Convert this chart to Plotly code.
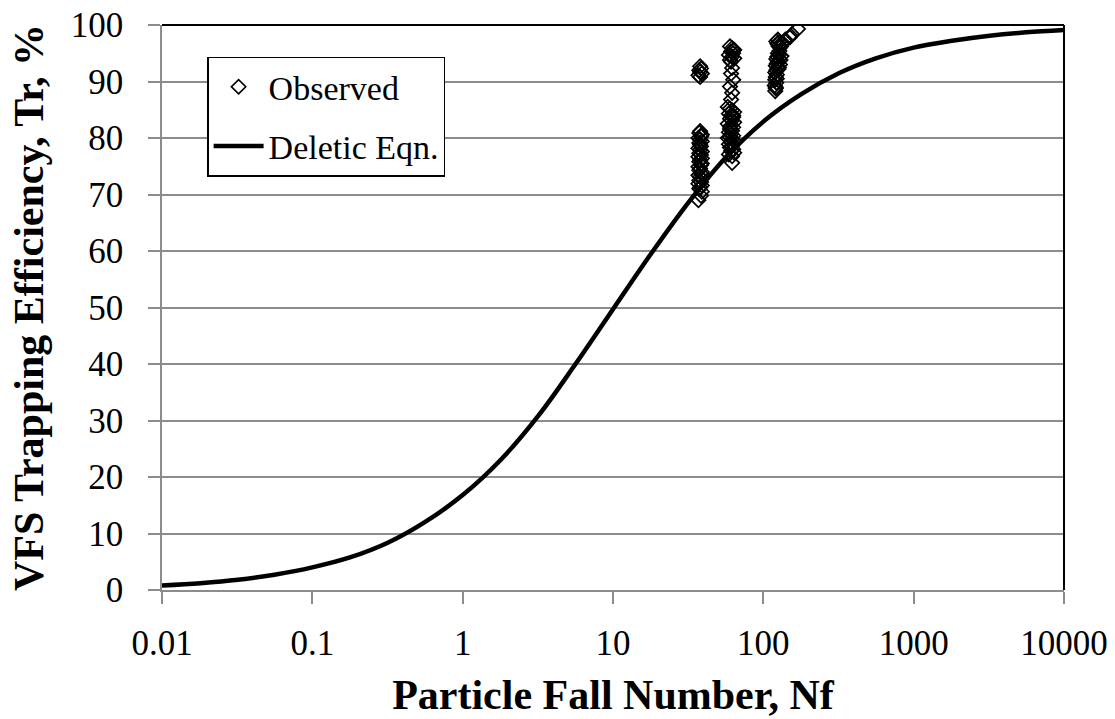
import plotly.graph_objects as go

# Deletic equation curve (quarter-decade steps)
curve_nf = [0.01, 0.018, 0.032, 0.056, 0.1, 0.18, 0.32, 0.56, 1, 1.8, 3.2, 5.6, 10, 18, 32,
            56, 100, 180, 320, 560, 1000, 1800, 3200, 5600, 10000]
curve_tr = [0.8, 1.2, 1.8, 2.7, 4.0, 5.8, 8.4, 12.0, 16.8, 23.1, 30.9, 39.9, 49.7, 59.6,
            68.7, 76.5, 82.9, 87.8, 91.5, 94.1, 96.0, 97.2, 98.1, 98.7, 99.1]

# Observed points (three groups)
obs1_nf = [37, 38.5, 39, 37.5, 38, 39, 37, 38.5, 37.5, 39, 38, 37, 38.5, 39, 37.5, 38, 37,
           38.5, 39, 37.5, 38, 39, 37, 38.5, 37.5, 39, 38, 37, 38.5, 38, 37.5, 39, 38, 37,
           38.5, 39, 37.5, 38,
           38, 37, 39, 38, 37.5, 38.5, 38]
obs1_tr = [69.0, 69.8, 70.5, 71.0, 71.3, 71.6, 71.9, 72.2, 72.5, 72.8, 73.1, 73.4, 73.7,
           74.0, 74.3, 74.6, 74.9, 75.2, 75.5, 75.8, 76.1, 76.4, 76.7, 77.0, 77.3, 77.6,
           77.9, 78.2, 78.5, 78.8, 79.1, 79.4, 79.7, 80.0, 80.3, 80.6, 80.9, 81.2,
           90.8, 91.1, 91.4, 91.7, 92.0, 92.3, 92.7]

obs2_nf = [60, 62, 64, 61, 63, 59, 62, 64, 60, 61, 63,
           62, 61, 63, 60, 62, 61,
           58, 60, 62, 64, 59, 61, 63, 60, 62, 64, 58, 61, 63, 60, 62, 59, 61, 63, 60, 62,
           64, 61, 59, 62, 60, 63, 61, 64, 59, 62, 60, 63, 58,
           62]
obs2_tr = [96.2, 95.9, 95.6, 95.3, 95.0, 94.7, 94.4, 94.1, 93.8, 93.5, 95.5,
           92.4, 91.4, 90.3, 89.1, 88.0, 86.8,
           85.5, 85.2, 84.9, 84.6, 84.3, 84.0, 83.7, 83.4, 83.1, 82.8, 82.5, 82.2, 81.9,
           81.6, 81.3, 81.0, 80.7, 80.4, 80.1, 79.8, 79.5, 79.2, 78.9, 78.6, 78.3, 78.0,
           77.7, 77.4, 77.1, 76.8, 82.0, 84.0, 80.0,
           75.6]

obs3_nf = [120, 121, 119, 122, 120, 121, 123, 120, 122, 124, 121, 123, 125, 122, 124, 127,
           125, 128, 130, 127, 132, 129, 126, 124, 122, 125, 128, 131, 121, 123, 126, 129,
           135, 140, 150, 155, 170]
obs3_tr = [88.3, 88.8, 89.3, 89.8, 90.3, 90.8, 91.2, 91.6, 92.0, 92.4, 92.8, 93.2, 93.6,
           94.0, 94.4, 94.7, 95.0, 95.4, 93.8, 92.5, 94.5, 96.0, 96.3, 96.7, 97.1, 97.4,
           97.0, 96.2, 89.0, 90.5, 92.2, 93.0,
           96.8, 97.4, 97.8, 98.4, 99.3]

x_ticks = [0.01, 0.1, 1, 10, 100, 1000, 10000]
x_tick_text = ["0.01", "0.1", "1", "10", "100", "1000", "10000"]
y_ticks = list(range(0, 101, 10))

FONT = "Liberation Serif"
GRID = "#8c8c8c"

fig = go.Figure()
fig.add_trace(go.Scatter(
    x=obs1_nf + obs2_nf + obs3_nf, y=obs1_tr + obs2_tr + obs3_tr,
    mode="markers", name="Observed",
    marker=dict(symbol="diamond-open", size=11, color="black", line=dict(width=1.7, color="black")),
    legendgroup="a",
))
fig.add_trace(go.Scatter(
    x=curve_nf, y=curve_tr, mode="lines", name="Deletic Eqn.",
    line=dict(color="black", width=4.5, shape="spline", smoothing=1.0),
    legendgroup="b",
))

fig.update_layout(
    width=1115, height=719,
    margin=dict(l=162, r=51, t=25, b=129),
    paper_bgcolor="white", plot_bgcolor="white",
    font=dict(family=FONT, size=35, color="black"),
    showlegend=True,
    legend=dict(
        x=0.05, y=0.944, xanchor="left", yanchor="top",
        bgcolor="white", bordercolor="black", borderwidth=1.5,
        font=dict(family=FONT, size=34, color="black"),
        tracegroupgap=12, traceorder="grouped", itemwidth=50,
    ),
    xaxis=dict(
        type="log", range=[-2, 4], automargin=False,
        tickvals=x_ticks, ticktext=x_tick_text,
        showgrid=False, zeroline=False,
        showline=True, linecolor=GRID, linewidth=1.5,
        ticks="outside", ticklen=12, tickcolor=GRID, tickwidth=1.5,
        ticklabelstandoff=9,
        title=dict(text="<b>Particle Fall Number, Nf</b>", font=dict(family=FONT, size=42), standoff=18),
    ),
    yaxis=dict(
        range=[0, 100], tickvals=y_ticks, automargin=False,
        showgrid=True, gridcolor=GRID, gridwidth=1.5, zeroline=False,
        showline=True, linecolor=GRID, linewidth=1.5,
        ticks="outside", ticklen=12, tickcolor=GRID, tickwidth=1.5,
        ticklabelstandoff=18,
        title=dict(text="<b>VFS Trapping Efficiency, Tr, %</b>", font=dict(family=FONT, size=42), standoff=14),
    ),
)
# plot-area border (top and right in black)
fig.add_shape(type="line", xref="paper", yref="paper", x0=0, x1=1, y0=1, y1=1,
              line=dict(color="black", width=2))
fig.add_shape(type="line", xref="paper", yref="paper", x0=1, x1=1, y0=0, y1=1,
              line=dict(color="black", width=2))

fig.write_html("out.html")
